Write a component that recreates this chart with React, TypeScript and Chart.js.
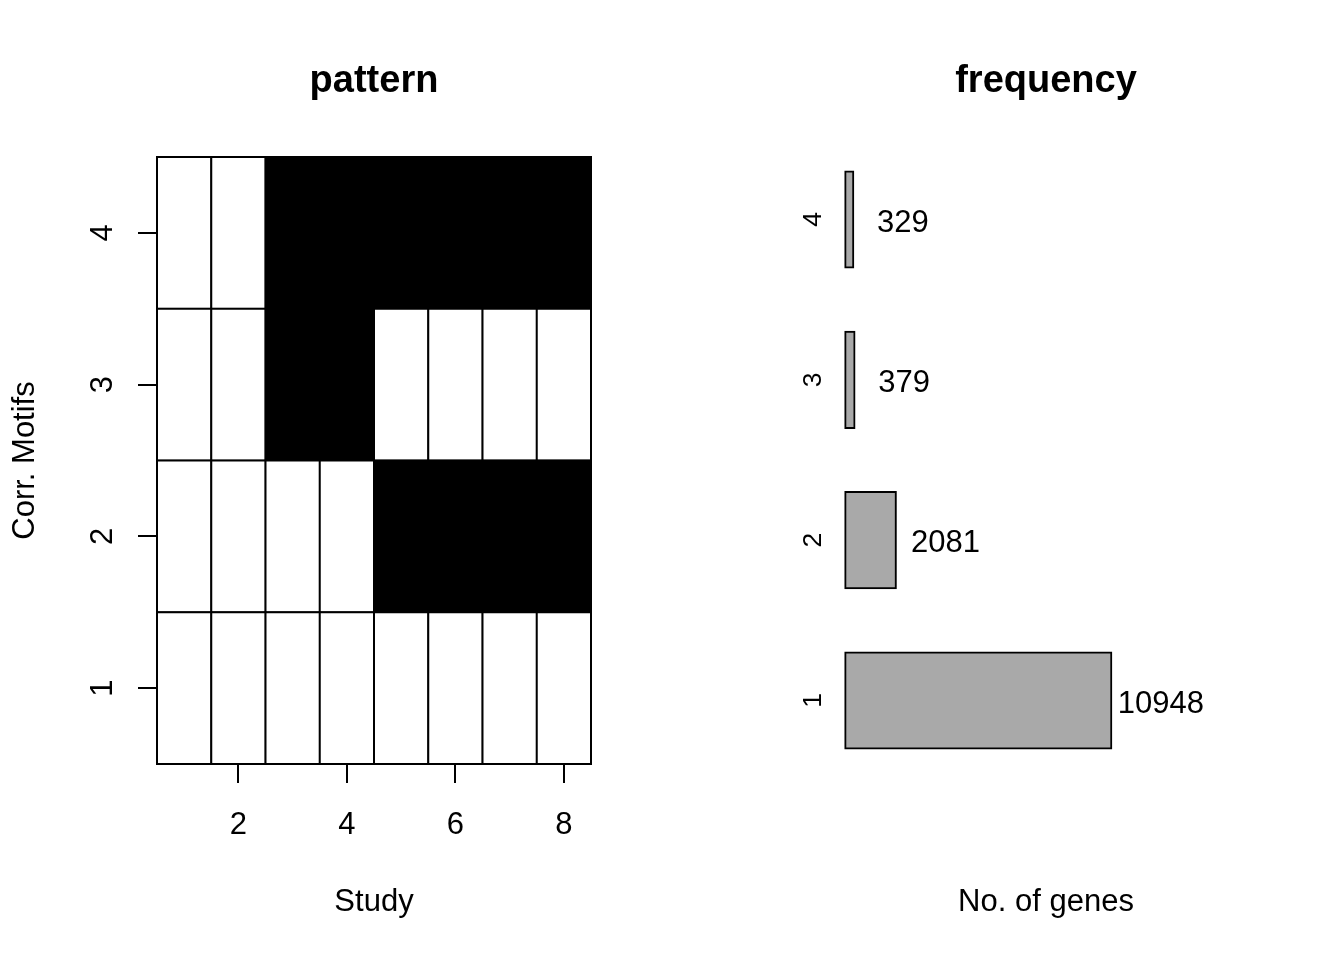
import React, { useEffect, useRef } from 'react';
import { Chart, registerables } from 'chart.js';

Chart.register(...registerables);

const FONT = "'Liberation Sans', Arial, Helvetica, sans-serif";

// ---- data ----
const STUDIES = [1, 2, 3, 4, 5, 6, 7, 8];
const MOTIFS = [1, 2, 3, 4];
const MOTIF1_PATTERN = [0, 0, 0, 0, 0, 0, 0, 0];
const MOTIF2_PATTERN = [0, 0, 0, 0, 1, 1, 1, 1];
const MOTIF3_PATTERN = [0, 0, 1, 1, 0, 0, 0, 0];
const MOTIF4_PATTERN = [0, 0, 1, 1, 1, 1, 1, 1];
const PATTERN_ROWS = [MOTIF1_PATTERN, MOTIF2_PATTERN, MOTIF3_PATTERN, MOTIF4_PATTERN];
const STUDY_TICKS = [2, 4, 6, 8];
const MOTIF_TICKS = [1, 2, 3, 4];

const FREQ_CATEGORIES = ['1', '2', '3', '4'];
const GENE_COUNTS = [10948, 2081, 379, 329];

const valueLabelPlugin = {
  id: 'valueLabels',
  afterDatasetsDraw(chart: any) {
    const meta = chart.getDatasetMeta(0);
    const ctx = chart.ctx;
    ctx.save();
    ctx.font = `31px ${FONT}`;
    ctx.fillStyle = '#000000';
    ctx.textAlign = 'left';
    ctx.textBaseline = 'middle';
    meta.data.forEach((bar: any, i: number) => {
      const label = String(GENE_COUNTS[i]).padStart(5, ' ');
      ctx.fillText(label, bar.x + 6.5, bar.y + 3.5);
    });
    ctx.restore();
  },
};

const tickGrid = {
  drawOnChartArea: false,
  drawTicks: true,
  offset: false,
  tickLength: 19,
  tickColor: '#000000',
  tickWidth: 2,
  color: '#000000',
  lineWidth: 2,
};

function makeLeftConfig(): any {
  return {
    type: 'bar',
    data: {
      datasets: MOTIFS.map((m, r) => ({
        label: `Motif ${m}`,
        data: STUDIES.map((s) => ({ x: s, y: [m - 0.5, m + 0.5] })),
        backgroundColor: PATTERN_ROWS[r].map((v) => (v ? '#000000' : '#ffffff')),
        borderColor: '#000000',
        borderWidth: 2,
        borderSkipped: false,
        inflateAmount: 1,
        barPercentage: 1,
        categoryPercentage: 1,
        grouped: false,
        clip: false,
      })),
    },
    options: {
      animation: false,
      responsive: false,
      devicePixelRatio: 1,
      layout: { padding: { left: 0, top: 0, right: 81, bottom: 0 } },
      plugins: {
        legend: { display: false },
        tooltip: { enabled: false },
        title: {
          display: true,
          text: 'pattern',
          fullSize: false,
          color: '#000000',
          font: { family: FONT, size: 38, weight: 'bold' },
          padding: { top: 58.5, bottom: 52.9 },
        },
      },
      scales: {
        x: {
          type: 'linear',
          position: 'bottom',
          offset: false,
          min: 0.5,
          max: 8.5,
          afterBuildTicks: (axis: any) => {
            axis.ticks = STUDY_TICKS.map((v) => ({ value: v }));
          },
          afterFit: (axis: any) => {
            axis.height = 196;
          },
          grid: { ...tickGrid },
          border: { display: false },
          ticks: {
            color: '#000000',
            font: { family: FONT, size: 31 },
            padding: 24,
            minRotation: 0,
            maxRotation: 0,
            autoSkip: false,
          },
          title: {
            display: true,
            text: 'Study',
            color: '#000000',
            font: { family: FONT, size: 31 },
            padding: { top: 0, bottom: 39 },
          },
        },
        y: {
          type: 'linear',
          position: 'left',
          offset: false,
          min: 0.5,
          max: 4.5,
          afterBuildTicks: (axis: any) => {
            axis.ticks = MOTIF_TICKS.map((v) => ({ value: v }));
          },
          afterFit: (axis: any) => {
            axis.width = 157;
          },
          grid: { ...tickGrid },
          border: { display: false },
          ticks: {
            color: '#000000',
            font: { family: FONT, size: 31 },
            padding: 25.5,
            minRotation: 90,
            maxRotation: 90,
            crossAlign: 'center',
            autoSkip: false,
          },
          title: {
            display: true,
            text: 'Corr. Motifs',
            color: '#000000',
            font: { family: FONT, size: 31 },
            padding: { top: 7, bottom: 0 },
          },
        },
      },
    },
  };
}

function makeRightConfig(): any {
  return {
    type: 'bar',
    data: {
      labels: FREQ_CATEGORIES,
      datasets: [
        {
          label: 'No. of genes',
          data: GENE_COUNTS,
          backgroundColor: '#A9A9A9',
          borderColor: '#000000',
          borderWidth: 2,
          borderSkipped: false,
          inflateAmount: 1,
          barPercentage: 0.6,
          categoryPercentage: 1,
          clip: false,
        },
      ],
    },
    plugins: [valueLabelPlugin],
    options: {
      indexAxis: 'y',
      animation: false,
      responsive: false,
      devicePixelRatio: 1,
      layout: { padding: { left: 0, top: 0, right: 81, bottom: 0 } },
      plugins: {
        legend: { display: false },
        tooltip: { enabled: false },
        title: {
          display: true,
          text: 'frequency',
          fullSize: false,
          color: '#000000',
          font: { family: FONT, size: 38, weight: 'bold' },
          padding: { top: 58.5, bottom: 35.23 },
        },
      },
      scales: {
        x: {
          type: 'linear',
          position: 'bottom',
          offset: false,
          min: -670,
          max: 17190,
          afterFit: (axis: any) => {
            axis.height = 179.33;
          },
          grid: { display: false, drawTicks: false, drawOnChartArea: false },
          border: { display: false },
          ticks: { display: false },
          title: {
            display: true,
            text: 'No. of genes',
            color: '#000000',
            font: { family: FONT, size: 31 },
            padding: { top: 0, bottom: 39 },
          },
        },
        y: {
          type: 'category',
          position: 'left',
          reverse: true,
          offset: true,
          afterFit: (axis: any) => {
            axis.width = 157;
          },
          grid: { display: false, drawTicks: false, drawOnChartArea: false },
          border: { display: false },
          ticks: {
            color: '#000000',
            font: { family: FONT, size: 26.5 },
            padding: 8,
            minRotation: 90,
            maxRotation: 90,
            crossAlign: 'center',
            autoSkip: false,
          },
        },
      },
    },
  };
}

export default function App() {
  const leftRef = useRef<HTMLCanvasElement>(null);
  const rightRef = useRef<HTMLCanvasElement>(null);

  useEffect(() => {
    const left = new Chart(leftRef.current as HTMLCanvasElement, makeLeftConfig());
    const right = new Chart(rightRef.current as HTMLCanvasElement, makeRightConfig());
    return () => {
      left.destroy();
      right.destroy();
    };
  }, []);

  return (
    <div
      style={{
        position: 'absolute',
        left: 0,
        top: 0,
        width: 1344,
        height: 960,
        background: '#ffffff',
        overflow: 'hidden',
      }}
    >
      <canvas
        ref={leftRef}
        width={672}
        height={960}
        style={{ position: 'absolute', left: 0, top: 0, width: 672, height: 960 }}
      />
      <canvas
        ref={rightRef}
        width={672}
        height={960}
        style={{ position: 'absolute', left: 672, top: 0, width: 672, height: 960 }}
      />
    </div>
  );
}
